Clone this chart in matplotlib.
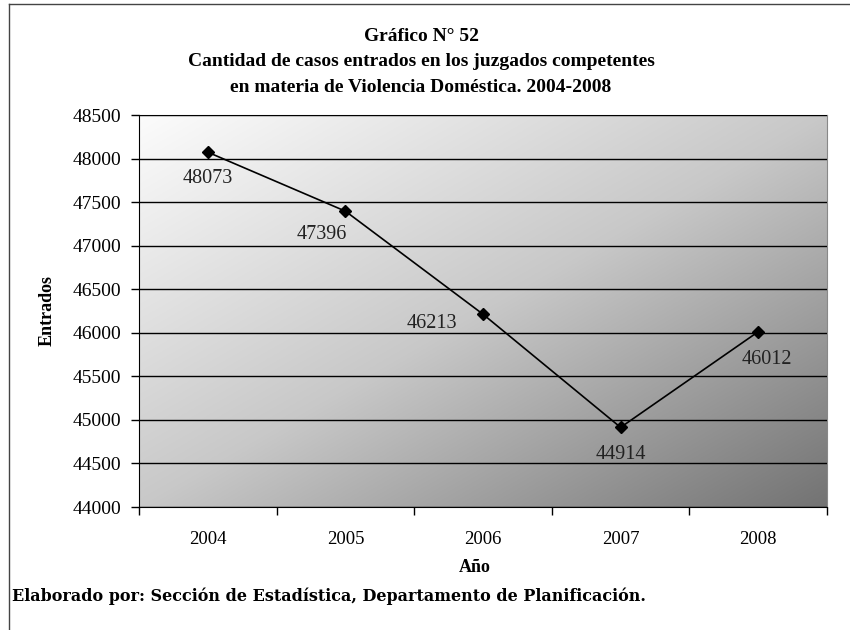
import matplotlib
matplotlib.use("Agg")
import matplotlib.pyplot as plt
import numpy as np

plt.rcParams['font.family'] = ['Liberation Serif', 'DejaVu Serif']

# Datos
years = ['2004', '2005', '2006', '2007', '2008']
cases = [48073, 47396, 46213, 44914, 46012]
yticks = [44000, 44500, 45000, 45500, 46000, 46500, 47000, 47500, 48000, 48500]

title = ("Gráfico N° 52\n"
         "Cantidad de casos entrados en los juzgados competentes\n"
         "en materia de Violencia Doméstica. 2004-2008")
footer = "Elaborado por: Sección de Estadística, Departamento de Planificación."

fig = plt.figure(figsize=(8.5, 6.3), dpi=100)
ax = fig.add_axes([139 / 850, 1 - 507 / 630, 688 / 850, 392 / 630])

# fondo degradado diagonal (claro arriba-izq, oscuro abajo-der)
n = 300
u, v = np.meshgrid(np.linspace(0, 1, n), np.linspace(0, 1, n))
t = (u + v) / 2
gray = np.interp(t, [0, 0.5, 1], [252, 200, 115]) / 255
ax.imshow(np.dstack([gray, gray, gray]), extent=(-0.5, 4.5, 44000, 48500),
          aspect='auto', origin='upper', zorder=0)

x = np.arange(len(years))
ax.plot(x, cases, color='black', lw=1.2, marker='D', ms=6, zorder=3)

# etiquetas de datos
offsets = [(0, -26), (-24, -23), (-51, -9), (0, -27), (9, -28)]
for xi, val, (dx, dy) in zip(x, cases, offsets):
    ax.annotate(str(val), (xi, val), xytext=(dx, dy), textcoords='offset pixels',
                ha='center', va='center', fontsize=14.5, color='#222222')

ax.set_xlim(-0.5, 4.5)
ax.set_ylim(44000, 48500)
ax.set_yticks(yticks)
ax.yaxis.grid(True, color='black', lw=1)
ax.set_axisbelow(False)
for gl in ax.get_ygridlines():
    gl.set_zorder(1)
ax.set_xticks(x)
ax.set_xticklabels(years)
ax.set_xticks(np.arange(-0.5, 5, 1), minor=True)
ax.tick_params(axis='x', which='major', length=0, pad=17, labelsize=13.5)
ax.tick_params(axis='x', which='minor', length=6, direction='out', width=1)
ax.tick_params(axis='y', length=6, direction='out', width=1, labelsize=14, pad=7)

ax.spines['top'].set_color('#888888')
ax.spines['right'].set_color('#888888')
ax.spines['left'].set_color('black')
ax.spines['bottom'].set_color('black')

ax.set_ylabel('Entrados', fontsize=13, fontweight='bold', labelpad=12)
ax.set_xlabel('Año', fontsize=13, fontweight='bold', labelpad=10)
ax.xaxis.set_label_coords((475 - 139) / 688, -52 / 392)

fig.text(421 / 850, 1 - 62 / 630, title, ha='center', va='center',
         fontsize=14, fontweight='bold', linespacing=1.62)
fig.text(12 / 850, 1 - 596 / 630, footer, ha='left', va='center',
         fontsize=11.5, fontweight='bold', family='DejaVu Serif')

# borde exterior
fig.add_artist(plt.Line2D([9 / 850, 9 / 850], [0, 1 - 4 / 630], color='#444444', lw=1))
fig.add_artist(plt.Line2D([9 / 850, 1], [1 - 4 / 630, 1 - 4 / 630], color='#444444', lw=1))

fig.savefig('out.png', dpi=100)
